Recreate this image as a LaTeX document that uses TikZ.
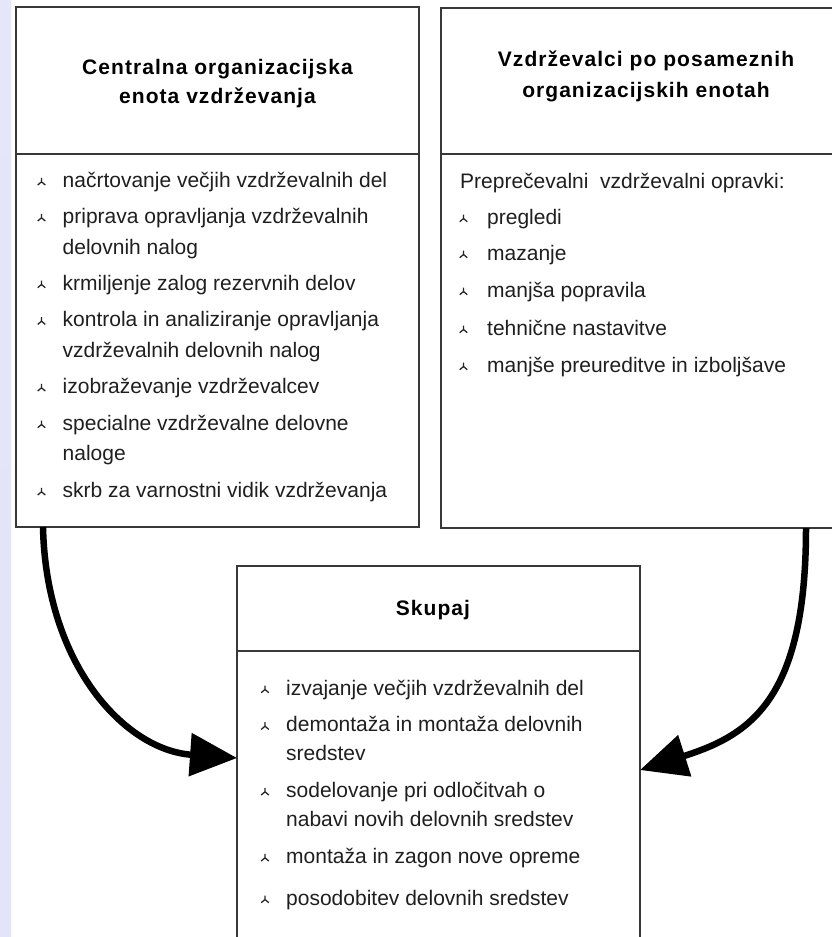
\documentclass[tikz,border=0pt]{standalone}
\usepackage{fontspec}
\setmainfont{Liberation Sans}
\newfontfamily\titlefont[LetterSpace=5]{Liberation Sans}
\usetikzlibrary{arrows.meta,calc}
\newcommand\bodysize{\fontsize{21pt}{30pt}\selectfont}
\definecolor{stripTop}{HTML}{E6E6FA}
\definecolor{stripMid}{HTML}{CDCDF6}
\definecolor{stripBot}{HTML}{E3E3F9}
\newcommand\itm[4]{\node[txt] (#1) at (#2) {#3}; \path (#1.base west) ++(#4,2pt) pic {bul};}
\newcommand\lin[3]{\node[txt] (#1) at (#2) {#3};}
\begin{document}
\begin{tikzpicture}[x=1pt,y=-1pt,
  box/.style={draw=black!78,line width=1.3pt,fill=white,rectangle,anchor=north west,inner sep=0pt,outer sep=0pt},
  divl/.style={draw=black!78,line width=1.3pt},
  txt/.style={anchor=base west,inner sep=0pt,font=\bodysize,text=black!88},
  ttl/.style={anchor=base,inner sep=0pt,font=\titlefont\bfseries\bodysize,text=black},
  conn/.style={line width=6.5pt,draw=black,-{Triangle[length=47pt,width=42pt]}},
  bul/.pic={\draw[line width=1.3pt,black!85] (0pt,7.5pt) -- (0pt,3.5pt) -- (-3.8pt,0.3pt) (0pt,3.5pt) -- (3.8pt,0.3pt);}]
\useasboundingbox (0,0) rectangle (832,937);
\clip (0,0) rectangle (832,937);
\fill[white] (0,0) rectangle (832,937);
\shade[top color=stripTop,middle color=stripMid,bottom color=stripBot] (0,0) rectangle (11,937);

% boxes
\node[box,minimum width=403pt,minimum height=520pt] (cent) at (16,7) {};
\node[box,minimum width=410pt,minimum height=520pt] (vzd) at (441,8) {};
\node[box,minimum width=403pt,minimum height=400pt] (skup) at (237,566) {};
\draw[divl] ([yshift=-147pt]cent.north west) -- ([yshift=-147pt]cent.north east);
\draw[divl] ([yshift=-146pt]vzd.north west) -- ([yshift=-146pt]vzd.north east);
\draw[divl] ([yshift=-85pt]skup.north west) -- ([yshift=-85pt]skup.north east);

% titles
\node[ttl] (t1a) at (217.5,74) {Centralna organizacijska};
\node[ttl] (t1b) at (217.5,103) {enota vzdrževanja};
\node[ttl] (t2a) at (646,66) {Vzdrževalci po posameznih};
\node[ttl] (t2b) at (646,97) {organizacijskih enotah};
\node[ttl] (t3) at (433,615) {Skupaj};

% left list
\itm{a1}{62.5,187.3}{načrtovanje večjih vzdrževalnih del}{-21pt}
\itm{a2}{62.5,223.3}{priprava opravljanja vzdrževalnih}{-21pt}
\lin{a3}{62.5,254}{delovnih nalog}
\itm{a4}{62.5,290}{krmiljenje zalog rezervnih delov}{-21pt}
\itm{a5}{62.5,326.7}{kontrola in analiziranje opravljanja}{-21pt}
\lin{a6}{62.5,357.3}{vzdrževalnih delovnih nalog}
\itm{a7}{62.5,393.3}{izobraževanje vzdrževalcev}{-21pt}
\itm{a8}{62.5,430}{specialne vzdrževalne delovne}{-21pt}
\lin{a9}{62.5,460.7}{naloge}
\itm{a10}{62.5,497.3}{skrb za varnostni vidik vzdrževanja}{-21pt}

% right list
\lin{b0}{460,188}{Preprečevalni\ \ vzdrževalni opravki:}
\itm{b1}{487,224}{pregledi}{-23.5pt}
\itm{b2}{487,260}{mazanje}{-23.5pt}
\itm{b3}{487,297}{manjša popravila}{-23.5pt}
\itm{b4}{487,335}{tehnične nastavitve}{-23.5pt}
\itm{b5}{487,372}{manjše preureditve in izboljšave}{-23.5pt}

% bottom list
\itm{s1}{286,695}{izvajanje večjih vzdrževalnih del}{-21pt}
\itm{s2}{286,731.7}{demontaža in montaža delovnih}{-21pt}
\lin{s3}{286,760}{sredstev}
\itm{s4}{286,797.3}{sodelovanje pri odločitvah o}{-21pt}
\lin{s5}{286,826.7}{nabavi novih delovnih sredstev}
\itm{s6}{286,863.3}{montaža in zagon nove opreme}{-21pt}
\itm{s7}{286,905}{posodobitev delovnih sredstev}{-21pt}

% connectors
\draw[conn] ([xshift=27pt]cent.south west) .. controls (46,665) and (125,750) .. ([yshift=-192pt]skup.north west);
\draw[conn] ([xshift=365pt]vzd.south west) .. controls (806,700) and (750,735) .. ([yshift=-204pt]skup.north east);
\end{tikzpicture}
\end{document}
